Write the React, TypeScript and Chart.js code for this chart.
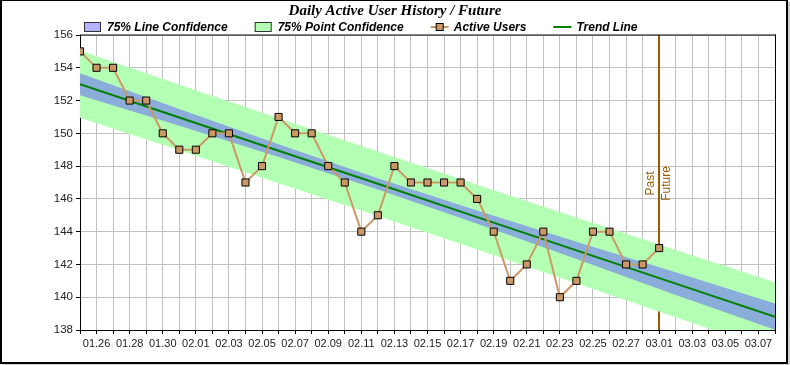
import React, { useEffect, useRef } from 'react';
import { Chart, registerables } from 'chart.js';

Chart.register(...registerables);

// ---- Data ----
const DATES = [
  '01.25', '01.26', '01.27', '01.28', '01.29', '01.30', '01.31',
  '02.01', '02.02', '02.03', '02.04', '02.05', '02.06', '02.07', '02.08', '02.09', '02.10',
  '02.11', '02.12', '02.13', '02.14', '02.15', '02.16', '02.17', '02.18', '02.19', '02.20',
  '02.21', '02.22', '02.23', '02.24', '02.25', '02.26', '02.27', '02.28',
  '03.01', '03.02', '03.03', '03.04', '03.05', '03.06', '03.07', '03.08',
];

const ACTIVE_USERS = [
  155, 154, 154, 152, 152, 150, 149, 149, 150, 150,
  147, 148, 151, 150, 150, 148, 147, 144, 145, 148,
  147, 147, 147, 147, 146, 144, 141, 142, 144, 140,
  141, 144, 144, 142, 142, 143,
];

// day index (from 01.25) at which band / trend values were read
const BAND_DAYS = [0, 6, 12, 18, 24, 30, 36, 42];
const TREND = [153.0, 150.97, 148.94, 146.92, 144.89, 142.86, 140.83, 138.81];
const LINE_CONF_UPPER = [153.67, 151.48, 149.33, 147.26, 145.29, 143.39, 141.53, 139.61];
const LINE_CONF_LOWER = [152.33, 150.46, 148.55, 146.58, 144.49, 142.33, 140.13, 138.01];
const POINT_CONF_UPPER = [155.05, 152.97, 150.92, 148.89, 146.87, 144.86, 142.88, 140.91];
const POINT_CONF_LOWER = [150.95, 148.97, 146.96, 144.95, 142.91, 140.86, 138.78, 136.71];

const Y_MIN = 138;
const Y_MAX = 156;
const Y_STEP = 2;

const MARK_DATE = '03.01';
const MARK_LEFT_TEXT = 'Past';
const MARK_RIGHT_TEXT = 'Future';

const TITLE = 'Daily Active User History / Future';
const LEGEND_LABELS = ['75% Line Confidence', '75% Point Confidence', 'Active Users', 'Trend Line'];

// ---- Styles ----
const USER_COLOR = '#cc9966';
const TREND_COLOR = '#008000';
const LINE_CONF_COLOR = '#8aaed9';
const LINE_CONF_LEGEND = '#b3b3ff';
const POINT_CONF_COLOR = '#b3ffb3';
const MARK_COLOR = '#9c5a00';
const GRID_COLOR = '#c0c0c0';
const TEXT_COLOR = '#222222';
const SANS = '"Liberation Sans", Arial, sans-serif';
const SERIF = '"Liberation Serif", "Times New Roman", serif';

const bandPoints = (vals: number[]) => BAND_DAYS.map((d, i) => ({ x: d, y: vals[i] }));

const decorPlugin = {
  id: 'decor',
  beforeDatasetsDraw(chart: any) {
    const { ctx, chartArea } = chart;
    const xs = chart.scales.x;
    const mx = Math.round(xs.getPixelForValue(DATES.indexOf(MARK_DATE)));
    ctx.save();
    ctx.fillStyle = MARK_COLOR;
    ctx.fillRect(mx - 1, chartArea.top, 2, chartArea.bottom - chartArea.top);
    const cy = (chartArea.top + chartArea.bottom) / 2 + 1;
    ctx.font = `12px ${SANS}`;
    ctx.textAlign = 'center';
    ctx.translate(mx, cy);
    ctx.rotate(-Math.PI / 2);
    ctx.textBaseline = 'bottom';
    ctx.fillText(MARK_LEFT_TEXT, 0, -2);
    ctx.textBaseline = 'top';
    ctx.fillText(MARK_RIGHT_TEXT, 0, 2);
    ctx.restore();
  },
  afterDraw(chart: any) {
    const { ctx, chartArea, width, height } = chart;
    ctx.save();
    // plot top/right border
    ctx.fillStyle = '#000';
    ctx.fillRect(chartArea.left, chartArea.top - 0.5, chartArea.right - chartArea.left + 1, 1);
    ctx.fillRect(chartArea.right, chartArea.top - 0.5, 1, chartArea.bottom - chartArea.top + 1);

    // title
    ctx.font = `bold italic 15px ${SERIF}`;
    ctx.fillStyle = '#000';
    ctx.textAlign = 'center';
    ctx.textBaseline = 'middle';
    ctx.fillText(TITLE, 395, 11);

    // legend
    ctx.font = `bold italic 12px ${SANS}`;
    ctx.textAlign = 'left';
    const ly = 27;
    let x = 84;
    const gap = 27;
    LEGEND_LABELS.forEach((label, i) => {
      if (i === 0 || i === 1) {
        ctx.fillStyle = i === 0 ? LINE_CONF_LEGEND : POINT_CONF_COLOR;
        ctx.fillRect(x, ly - 4.5, 17, 9);
        ctx.strokeStyle = '#333';
        ctx.lineWidth = 1;
        ctx.strokeRect(x + 0.5, ly - 4.5, 16, 9);
      } else if (i === 2) {
        ctx.strokeStyle = USER_COLOR;
        ctx.lineWidth = 2;
        ctx.beginPath();
        ctx.moveTo(x, ly);
        ctx.lineTo(x + 18, ly);
        ctx.stroke();
        ctx.fillStyle = USER_COLOR;
        ctx.fillRect(x + 5.5, ly - 3.5, 7, 7);
        ctx.strokeStyle = '#000';
        ctx.lineWidth = 1;
        ctx.strokeRect(x + 5.5, ly - 3.5, 7, 7);
      } else {
        ctx.strokeStyle = TREND_COLOR;
        ctx.lineWidth = 2;
        ctx.beginPath();
        ctx.moveTo(x, ly);
        ctx.lineTo(x + 18, ly);
        ctx.stroke();
      }
      const tx = x + 23;
      ctx.fillStyle = '#000';
      ctx.fillText(label, tx, ly + 1);
      x = tx + ctx.measureText(label).width + gap;
    });

    // outer frame
    ctx.fillStyle = '#000';
    ctx.fillRect(0, 0, 788, 1);
    ctx.fillRect(0, 0, 2, 364);
    ctx.fillRect(786, 0, 2, 364);
    ctx.fillRect(0, 362, 788, 2);
    ctx.fillStyle = '#d0d0d0';
    ctx.fillRect(788, 2, 2, height - 2);
    ctx.fillRect(2, 364, width - 2, 1);
    ctx.restore();
  },
};

export default function App() {
  const ref = useRef<HTMLCanvasElement | null>(null);

  useEffect(() => {
    document.body.style.margin = '0';
    const canvas = ref.current;
    if (!canvas) return;
    const chart = new Chart(canvas, {
      type: 'line',
      data: {
        datasets: [
          {
            label: 'Active Users',
            data: ACTIVE_USERS.map((v, i) => ({ x: i, y: v })),
            borderColor: USER_COLOR,
            borderWidth: 2,
            pointStyle: 'rect',
            pointRadius: 5,
            pointBackgroundColor: USER_COLOR,
            pointBorderColor: '#000',
            pointBorderWidth: 1,
            tension: 0,
            fill: false,
          },
          {
            label: 'Trend Line',
            data: bandPoints(TREND),
            borderColor: TREND_COLOR,
            borderWidth: 2,
            pointRadius: 0,
            tension: 0,
            fill: false,
          },
          {
            label: '75% Line Confidence',
            data: bandPoints(LINE_CONF_UPPER),
            borderColor: 'rgba(0,0,0,0)',
            borderWidth: 1,
            pointRadius: 0,
            backgroundColor: LINE_CONF_COLOR,
            fill: '+1',
          },
          {
            label: 'lc-lower',
            data: bandPoints(LINE_CONF_LOWER),
            borderColor: 'rgba(0,0,0,0)',
            borderWidth: 1,
            pointRadius: 0,
            fill: false,
          },
          {
            label: '75% Point Confidence',
            data: bandPoints(POINT_CONF_UPPER),
            borderColor: 'rgba(0,0,0,0)',
            borderWidth: 1,
            pointRadius: 0,
            backgroundColor: POINT_CONF_COLOR,
            fill: '+1',
          },
          {
            label: 'pc-lower',
            data: bandPoints(POINT_CONF_LOWER),
            borderColor: 'rgba(0,0,0,0)',
            borderWidth: 1,
            pointRadius: 0,
            fill: false,
          },
        ],
      },
      options: {
        animation: false,
        responsive: false,
        maintainAspectRatio: false,
        layout: { padding: { left: 0, top: 35, right: 15, bottom: 0 } },
        plugins: {
          legend: { display: false },
          title: { display: false },
          tooltip: { enabled: false },
        },
        scales: {
          x: {
            type: 'linear',
            min: 0,
            max: DATES.length - 1,
            afterFit: (s: any) => { s.height = 35; },
            ticks: {
              stepSize: 1,
              autoSkip: false,
              maxRotation: 0,
              minRotation: 0,
              padding: 3,
              color: TEXT_COLOR,
              font: { family: SANS, size: 11 },
              callback: (v: any) => (Number(v) % 2 === 1 ? DATES[Number(v)] : ''),
            },
            grid: { color: GRID_COLOR, tickColor: '#000', tickLength: 4, lineWidth: 1 },
            border: { color: '#000', width: 1 },
          },
          y: {
            min: Y_MIN,
            max: Y_MAX,
            afterFit: (s: any) => { s.width = 80; },
            ticks: {
              stepSize: Y_STEP,
              padding: 3,
              color: TEXT_COLOR,
              font: { family: SANS, size: 11.5 },
            },
            grid: { color: GRID_COLOR, tickColor: '#000', tickLength: 4, lineWidth: 1 },
            border: { color: '#000', width: 1 },
          },
        },
      },
      plugins: [decorPlugin],
    });
    return () => chart.destroy();
  }, []);

  return <canvas ref={ref} width={790} height={365} style={{ display: 'block' }} />;
}
